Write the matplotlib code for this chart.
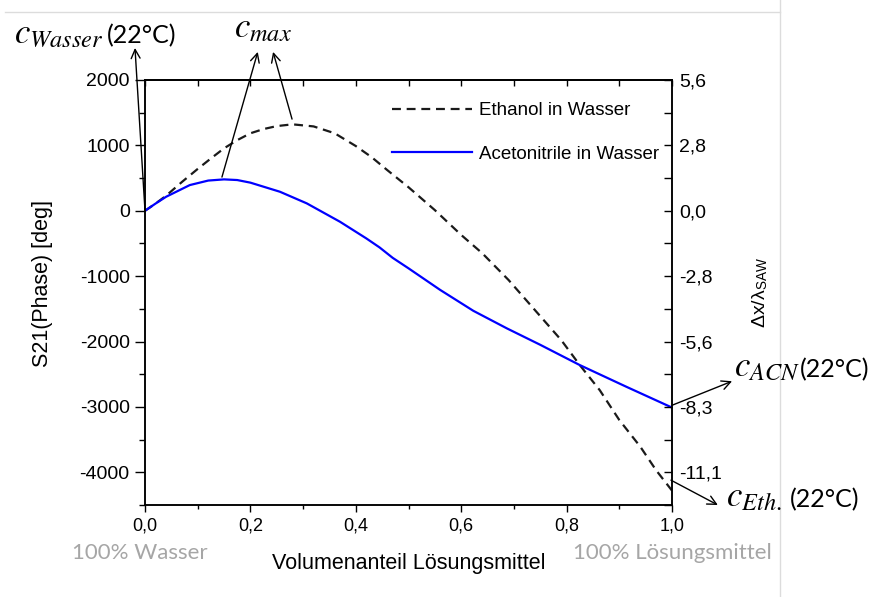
import matplotlib
matplotlib.use("Agg")
import matplotlib.pyplot as plt
from matplotlib.lines import Line2D
from matplotlib.ticker import FuncFormatter, MultipleLocator, FixedLocator

plt.rcParams['font.family'] = ['Liberation Sans', 'DejaVu Sans']
plt.rcParams['axes.unicode_minus'] = False
plt.rcParams['mathtext.fontset'] = 'stix'

# Ethanol in Wasser (dashed)
eth_x = [0.0, 0.02, 0.04, 0.07, 0.1, 0.125, 0.15, 0.175, 0.2, 0.225, 0.25, 0.28, 0.32, 0.36,
         0.4, 0.43, 0.46, 0.5, 0.55, 0.6, 0.64, 0.69, 0.74, 0.79, 0.825, 0.863, 0.9, 0.94,
         0.97, 1.0]
eth_y = [0, 110, 230, 440, 640, 800, 955, 1080, 1185, 1250, 1295, 1322, 1290, 1185,
         990, 820, 620, 360, 10, -370, -650, -1060, -1520, -1980, -2360, -2745, -3200, -3610,
         -3970, -4280]

# Acetonitrile in Wasser (solid blue)
acn_x = [0.0, 0.02, 0.04, 0.085, 0.12, 0.15, 0.175, 0.2, 0.256, 0.307, 0.37, 0.42, 0.445,
         0.47, 0.5, 0.56, 0.623, 0.687, 0.75, 0.825, 0.914, 1.0]
acn_y = [0, 110, 214, 393, 462, 480, 470, 430, 291, 113, -168, -423, -560,
         -720, -880, -1210, -1530, -1800, -2050, -2360, -2694, -3010]

left_ticks = [-4000, -3000, -2000, -1000, 0, 1000, 2000]
right_labels = ['-11,1', '-8,3', '-5,6', '-2,8', '0,0', '2,8', '5,6']
x_ticks = [0.0, 0.2, 0.4, 0.6, 0.8, 1.0]

W, H = 875, 597
fig = plt.figure(figsize=(W / 100, H / 100), dpi=100)


def px(x, y):
    return x / W, 1 - y / H


ax = fig.add_axes([145 / W, 1 - 505 / H, 527 / W, 425 / H])
ax.plot(eth_x, eth_y, color='#1a1a1a', lw=1.6, ls=(0, (4, 2.6)), label='Ethanol in Wasser')
ax.plot(acn_x, acn_y, color='#0000ff', lw=1.6, label='Acetonitrile in Wasser')

ax.set_xlim(0, 1)
ax.set_ylim(-4500, 2000)
ax.set_yticks(left_ticks)
ax.yaxis.set_minor_locator(MultipleLocator(500))
ax.set_xticks(x_ticks)
ax.xaxis.set_minor_locator(MultipleLocator(0.1))
ax.xaxis.set_major_formatter(FuncFormatter(lambda v, p: f"{v:.1f}".replace('.', ',')))
ax.tick_params(axis='y', which='major', direction='out', length=7, width=1, labelsize=14, pad=4)
ax.tick_params(axis='y', which='minor', direction='out', length=4, width=1)
ax.tick_params(axis='x', which='major', direction='out', length=5, width=1, labelsize=13, pad=4)
ax.tick_params(axis='x', which='minor', direction='out', length=3, width=1)
for s in ax.spines.values():
    s.set_linewidth(1.1)

top = ax.secondary_xaxis('top')
top.xaxis.set_major_locator(MultipleLocator(0.1))
top.tick_params(direction='in', length=4, width=1, labeltop=False)
top.spines['top'].set_linewidth(1.1)

ax2 = ax.twinx()
ax2.set_ylim(-4500 / 360, 2000 / 360)
ax2.yaxis.set_major_locator(FixedLocator([t / 360 for t in left_ticks]))
ax2.yaxis.set_minor_locator(FixedLocator([t / 360 for t in range(-4500, 2001, 500)]))
ax2.set_yticklabels(right_labels)
ax2.tick_params(axis='y', which='both', direction='in', length=6, width=1, labelsize=14, pad=5)
for s in ax2.spines.values():
    s.set_linewidth(1.1)

ax.set_ylabel('S21(Phase) [deg]', fontsize=15.5)
ax.yaxis.set_label_coords(-0.175, 0.522)
ax2.set_ylabel(r'Δx/λ$_{\mathregular{SAW}}$', fontsize=14)
ax2.yaxis.set_label_coords(1.148, 0.5)
ax.set_xlabel('Volumenanteil Lösungsmittel', fontsize=15.5)
ax.xaxis.set_label_coords(0.5, -0.113)

ax.legend(loc='upper left', bbox_to_anchor=(0.461, 0.957), frameon=False, fontsize=13.5,
          handlelength=4.3, handletextpad=0.37, labelspacing=1.41, borderpad=0.2,
          borderaxespad=0)

gray = '#a6a6a6'
fig.text(*px(140, 553), '100% Wasser', ha='center', va='center', color=gray,
         fontsize=16, family='Lato')
fig.text(*px(672, 553), '100% Lösungsmittel', ha='center', va='center', color=gray,
         fontsize=16, family='Lato')

mt = dict(fontsize=25, va='baseline', ha='left')
pt = dict(fontsize=18, family='Lato', va='baseline', ha='left')
fig.text(*px(14, 43), r'$c_{Wasser}$', **mt)
fig.text(*px(107, 43), '(22°C)', **pt)
fig.text(*px(234, 37), r'$c_{max}$', **mt)
fig.text(*px(734, 376), r'$c_{ACN}$', **mt)
fig.text(*px(800, 377), '(22°C)', **pt)
fig.text(*px(726, 506), r'$c_{Eth.}$', **mt)
fig.text(*px(790, 507), '(22°C)', **pt)

arrow = dict(arrowstyle='->', color='black', lw=1, shrinkA=0, shrinkB=0, mutation_scale=16)
arrows = [((-0.019, 2490), (0.0, 0)),
          ((0.214, 2430), (0.146, 515)),
          ((0.243, 2430), (0.279, 1402)),
          ((1.114, -2607), (1.0, -2975)),
          ((1.087, -4500), (0.998, -4120))]
for head, tail in arrows:
    ax.annotate('', xy=head, xytext=tail, arrowprops=arrow, annotation_clip=False)

fig.add_artist(Line2D([5 / W, 780 / W], [1 - 12 / H, 1 - 12 / H], color='#dcdcdc', lw=1))
fig.add_artist(Line2D([780 / W, 780 / W], [0, 1], color='#dcdcdc', lw=1))

fig.savefig('out.png', dpi=100)
